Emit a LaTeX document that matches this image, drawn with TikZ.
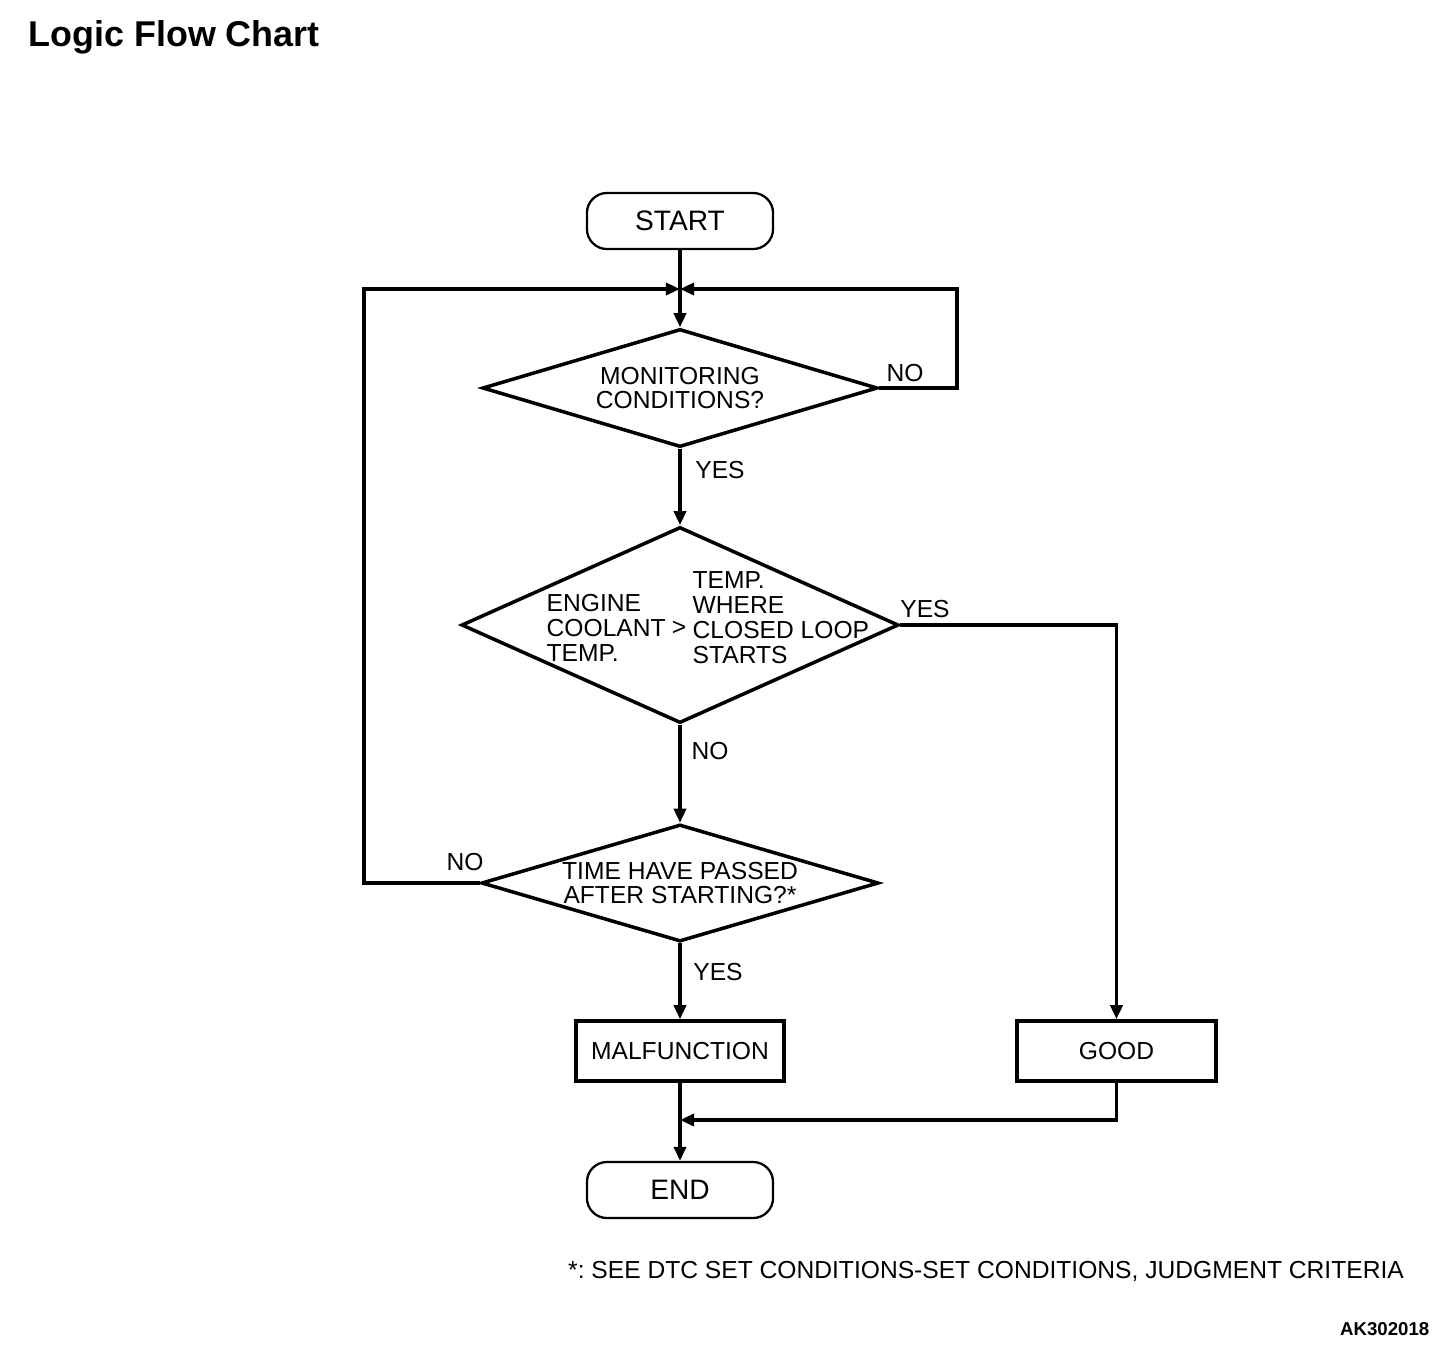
\documentclass[tikz,border=0pt]{standalone}
\usepackage{fontspec}
\setmainfont{Liberation Sans}
\usetikzlibrary{shapes.geometric,arrows.meta,positioning}
\frenchspacing

\tikzset{
  flowline/.style={line width=1pt, -{Triangle[length=0.14cm,width=0.12cm]}},
  terminal/.style={draw, line width=0.65pt, rounded corners=0.2cm, minimum width=1.86cm, minimum height=0.56cm, inner sep=0pt, font=\fontsize{8}{9}\selectfont},
  decision/.style={draw, diamond, line width=1pt, inner sep=0pt},
  process/.style={draw, line width=1pt, minimum width=2.08cm, minimum height=0.6cm},
  txt/.style={font=\fontsize{7}{7.1}\selectfont, inner sep=0pt},
}

\begin{document}
\begin{tikzpicture}[x=0.01cm,y=-0.01cm]
\useasboundingbox (0,0) rectangle (1456,1356);
% title
\node[anchor=base west, inner sep=0pt, font=\fontsize{10.2}{12}\selectfont\bfseries] (title) at (28,46) {Logic Flow Chart};

% start and end
\node[terminal] (start) at (680,221) {START};
\node[terminal] (end) at (680,1190) {END};

% decisions
\node[decision, minimum width=3.95cm, minimum height=1.18cm] (mon) at (680,388) {};
\node[txt, align=center] (montxt) at (mon.center) {MONITORING\\CONDITIONS?};

\node[decision, minimum width=4.37cm, minimum height=1.96cm] (ect) at (680,625) {};
\node[txt, align=left, anchor=west] (ectleft) at (546,628) {ENGINE\\COOLANT\\TEMP.};
\node[txt] (ectgt) at (679,628) {>};
\node[txt, align=left, anchor=west] (ectright) at (692,617.5) {TEMP.\\WHERE\\CLOSED LOOP\\STARTS};

\node[decision, minimum width=3.97cm, minimum height=1.17cm] (time) at (680,883) {};
\node[txt, align=center] (timetxt) at (time.center) {TIME HAVE PASSED\\AFTER STARTING?*};

% results
\node[process, txt] (malf) at (680,1051) {MALFUNCTION};
\node[process, txt, minimum width=1.99cm] (good) at (1116.5,1051) {GOOD};

% corner and joining points
\coordinate (join) at (680,289);
\coordinate (noright) at (957,289);
\coordinate (noleft) at (364,289);
\coordinate (merge) at (680,1120);

% connectors
\draw[flowline] (start) -- (mon.north);
\draw[flowline] (mon.east) -| (noright) -- (join);
\draw[flowline] (time.west) -| (noleft) -- (join);
\draw[flowline] (mon.south) -- (ect.north);
\draw[flowline] (ect.south) -- (time.north);
\draw[flowline] (ect.east) -| (good.north);
\draw[flowline] (time.south) -- (malf.north);
\draw[flowline] (good.south) |- (merge);
\draw[flowline] (malf) -- (end);

% branch labels
\node[txt] (no1) at (905,373) {NO};
\node[txt] (yes1) at (720,470) {YES};
\node[txt] (yes2) at (925,609) {YES};
\node[txt] (no2) at (710,751) {NO};
\node[txt] (no3) at (465,862) {NO};
\node[txt] (yes3) at (718,972) {YES};

% footnote
\node[txt] (note) at (986,1271) {*: SEE DTC SET CONDITIONS-SET CONDITIONS, JUDGMENT CRITERIA};
\node[txt, anchor=east, font=\fontsize{5.3}{6}\selectfont\bfseries] (code) at (1430,1329) {AK302018};
\end{tikzpicture}
\end{document}
